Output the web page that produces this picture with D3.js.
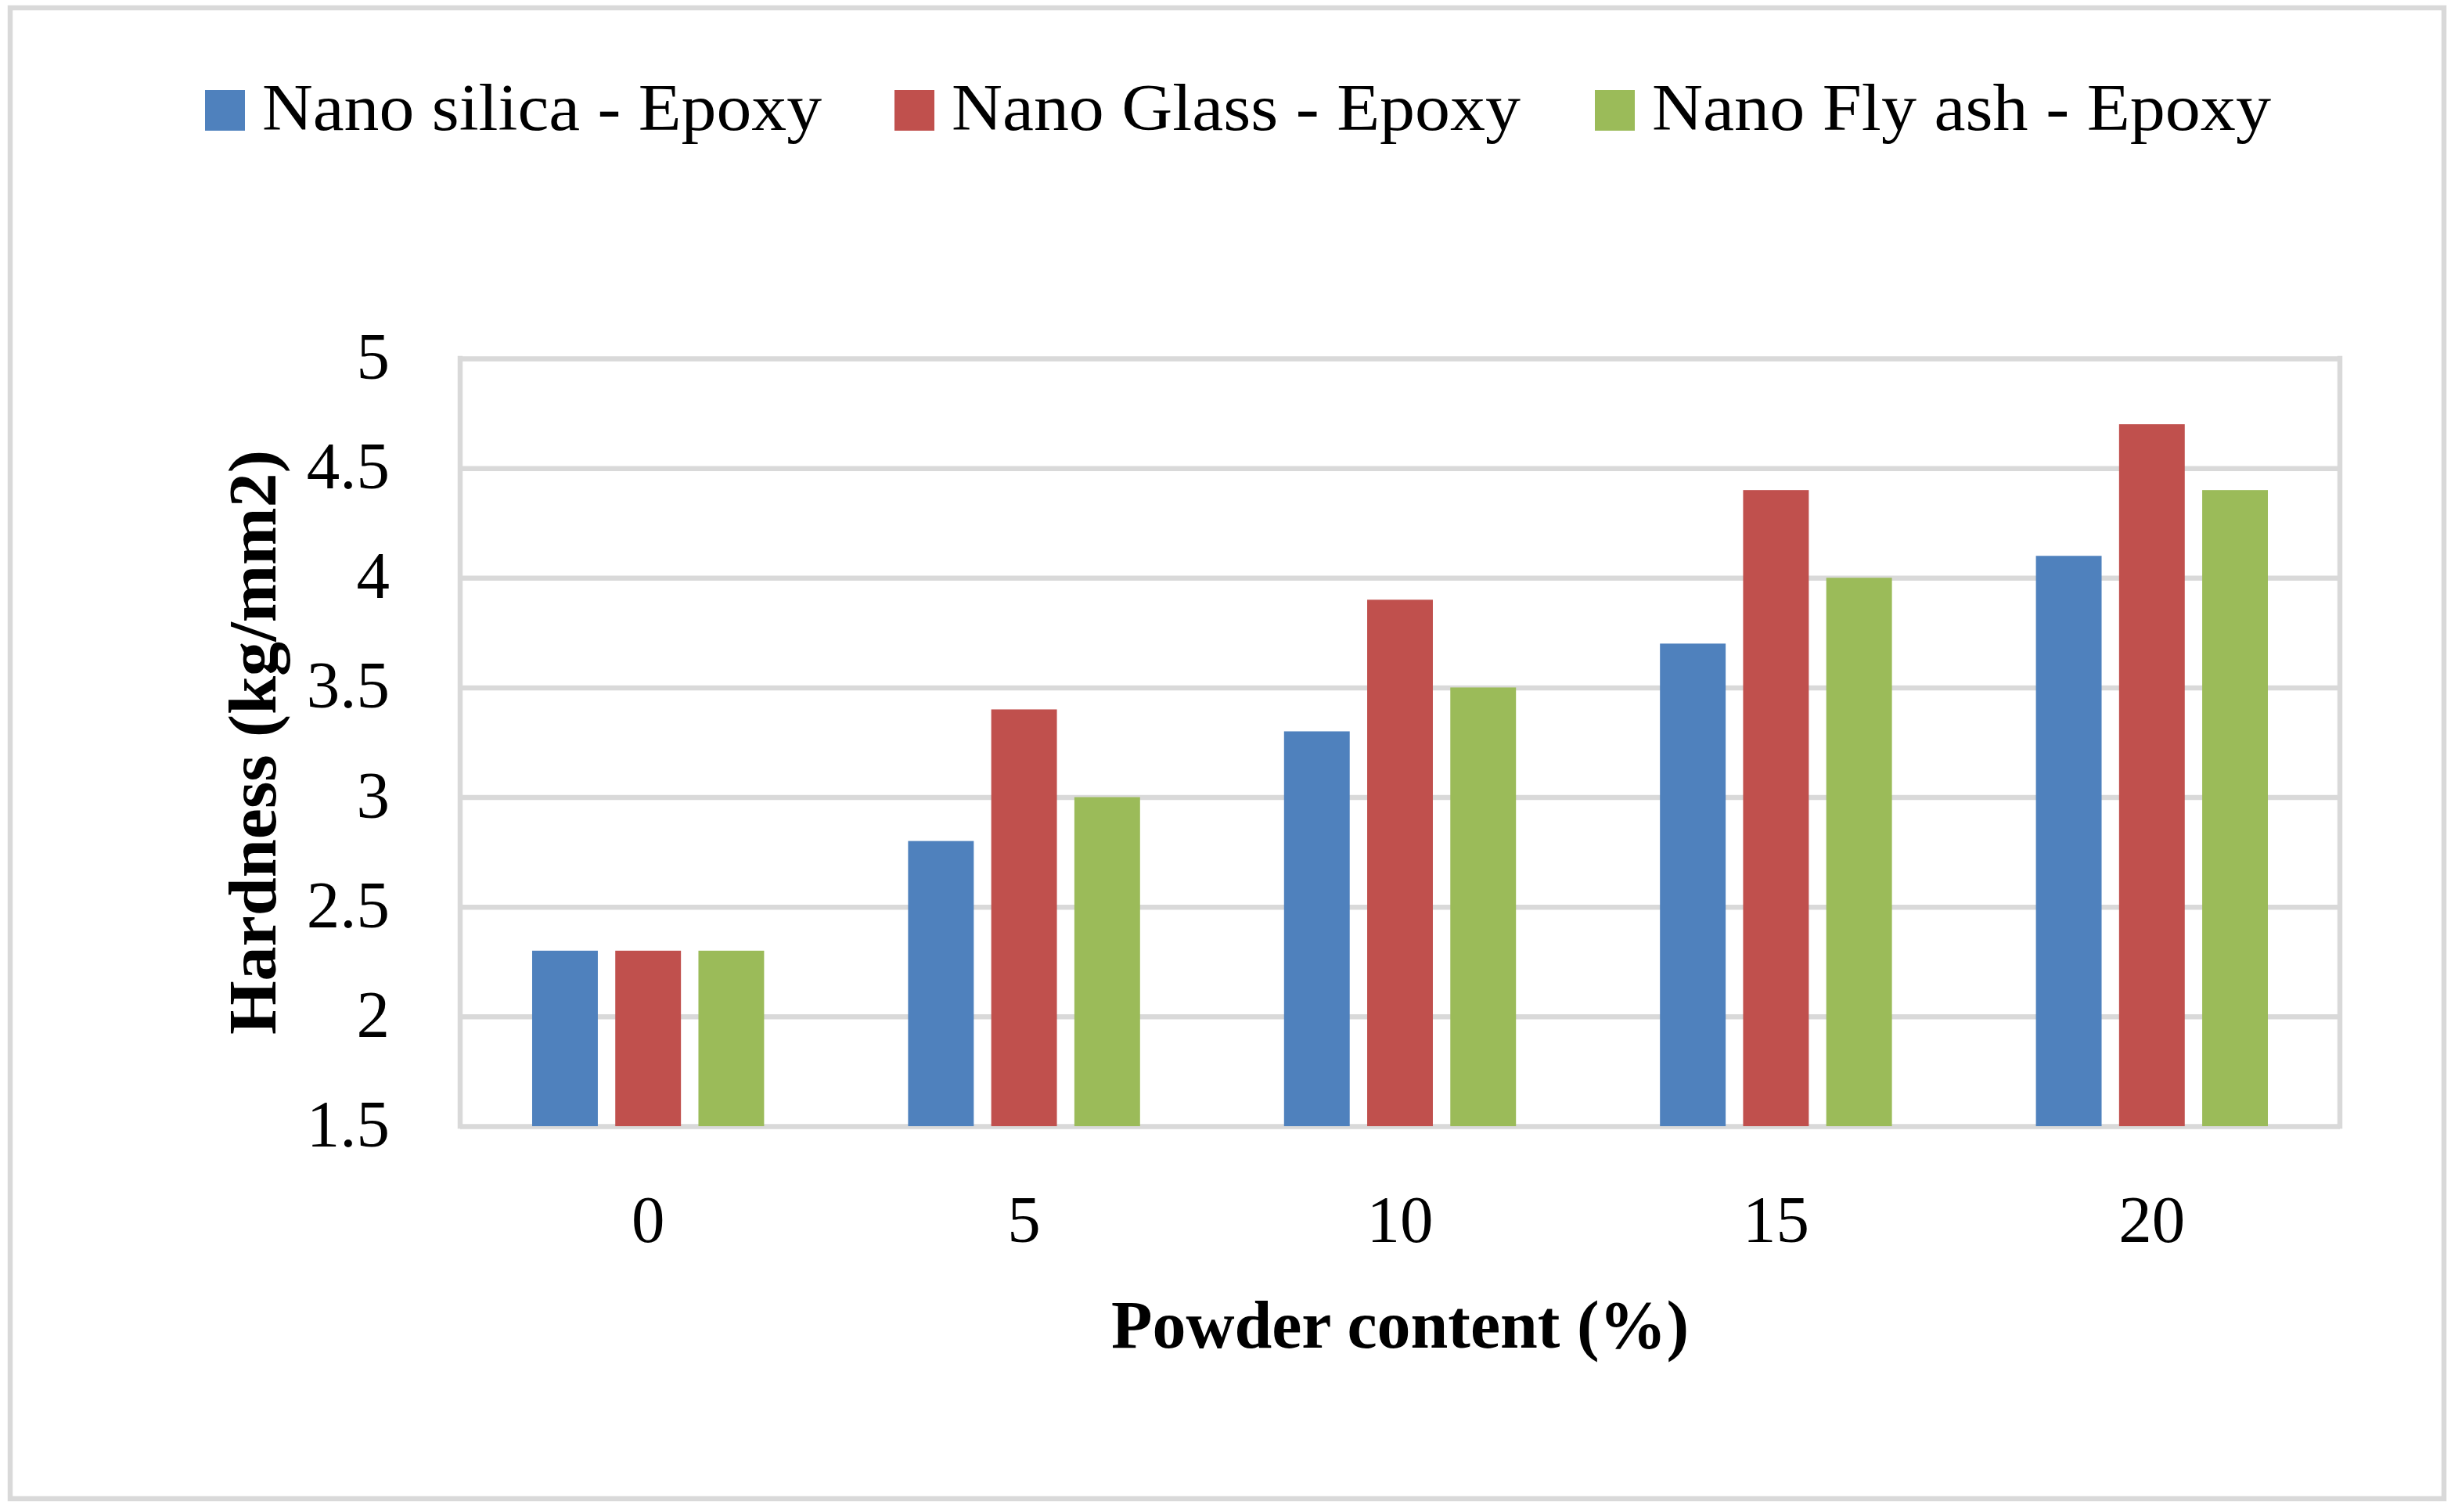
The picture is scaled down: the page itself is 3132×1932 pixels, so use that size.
<html>
<head>
  <meta charset="utf-8">
  <script src="https://cdn.jsdelivr.net/npm/d3@7/dist/d3.min.js"></script>
  <style>
    body { margin: 0; background: #fff; }
    svg text { font-family: "Liberation Serif", "Times New Roman", serif; fill: #000; }
    .grid line { stroke: #d9d9d9; stroke-width: 6.5; }
    .grid .domain { display: none; }
    .xaxis .domain { display: none; }
  </style>
</head>
<body>
<div id="chart"></div>
<script>
  // data
  var categories = ["0", "5", "10", "15", "20"];
  var seriesNames = ["Nano silica - Epoxy", "Nano Glass - Epoxy", "Nano Fly ash - Epoxy"];
  var seriesColors = ["#4f81bd", "#c0504d", "#9bbb59"];
  var silica = [2.3, 2.8, 3.3, 3.7, 4.1];
  var glass  = [2.3, 3.4, 3.9, 4.4, 4.7];
  var flyash = [2.3, 3.0, 3.5, 4.0, 4.4];
  var yTicks = [1.5, 2, 2.5, 3, 3.5, 4, 4.5, 5];
  var yTickLabels = ["1.5", "2", "2.5", "3", "3.5", "4", "4.5", "5"];

  var series = [silica, glass, flyash];

  var W = 3132, H = 1932;
  var plot = { left: 588, right: 2990, top: 458, bottom: 1439 };
  var fontSize = 85;

  var svg = d3.select('#chart').append('svg')
    .attr('width', W).attr('height', H);

  svg.append('rect').attr('width', W).attr('height', H).attr('fill', '#fff');

  // outer frame
  svg.append('rect')
    .attr('x', 13).attr('y', 10).attr('width', 3110).attr('height', 1905)
    .attr('fill', 'none').attr('stroke', '#d9d9d9').attr('stroke-width', 6.5);

  var x0 = d3.scaleBand().domain(categories)
    .range([plot.left, plot.right]).paddingInner(0.383).paddingOuter(0.1915);
  var x1 = d3.scaleBand().domain(d3.range(seriesNames.length))
    .range([0, x0.bandwidth()]).paddingInner(0.21);
  var y = d3.scaleLinear().domain([1.5, 5]).range([plot.bottom, plot.top]);

  // gridlines + y tick labels
  var gy = svg.append('g').attr('class', 'grid')
    .attr('transform', 'translate(' + plot.left + ',0)')
    .call(d3.axisLeft(y).tickValues(yTicks)
      .tickFormat(function(d, i) { return yTickLabels[i]; })
      .tickSize(-(plot.right - plot.left)).tickPadding(90));
  gy.selectAll('text').style('font-size', fontSize + 'px').attr('dy', '0.3em');

  // plot border (left / right)
  svg.append('line').attr('x1', plot.left).attr('x2', plot.left)
    .attr('y1', plot.top - 3.25).attr('y2', plot.bottom + 3.25)
    .attr('stroke', '#d9d9d9').attr('stroke-width', 6.5);
  svg.append('line').attr('x1', plot.right).attr('x2', plot.right)
    .attr('y1', plot.top - 3.25).attr('y2', plot.bottom + 3.25)
    .attr('stroke', '#d9d9d9').attr('stroke-width', 6.5);

  // bars
  var groups = svg.append('g').selectAll('g')
    .data(categories).enter().append('g')
    .attr('transform', function(d) { return 'translate(' + x0(d) + ',0)'; });
  groups.selectAll('rect')
    .data(function(d, ci) { return series.map(function(s, si) { return { si: si, v: s[ci] }; }); })
    .enter().append('rect')
    .attr('x', function(d) { return x1(d.si); })
    .attr('width', x1.bandwidth())
    .attr('y', function(d) { return y(d.v); })
    .attr('height', function(d) { return y(1.5) - y(d.v); })
    .attr('fill', function(d) { return seriesColors[d.si]; });

  // x axis labels
  var gx = svg.append('g').attr('class', 'xaxis')
    .attr('transform', 'translate(0,' + plot.bottom + ')')
    .call(d3.axisBottom(x0).tickSize(0).tickPadding(88));
  gx.selectAll('text').style('font-size', fontSize + 'px');

  // axis titles
  svg.append('text')
    .attr('x', (plot.left + plot.right) / 2).attr('y', 1722)
    .attr('text-anchor', 'middle')
    .attr('textLength', 738).attr('lengthAdjust', 'spacingAndGlyphs')
    .style('font-size', '86px').style('font-weight', 'bold')
    .text('Powder content (%)');

  svg.append('text')
    .attr('transform', 'translate(352,' + ((plot.top + plot.bottom) / 2) + ') rotate(-90)')
    .attr('text-anchor', 'middle')
    .attr('textLength', 747).attr('lengthAdjust', 'spacingAndGlyphs')
    .style('font-size', '86px').style('font-weight', 'bold')
    .text('Hardness (kg/mm2)');

  // legend
  var legendX = [262, 1143, 2038];
  var legendW = [715, 727, 791];
  var leg = svg.append('g').selectAll('g')
    .data(seriesNames).enter().append('g')
    .attr('transform', function(d, i) { return 'translate(' + legendX[i] + ',0)'; });
  leg.append('rect')
    .attr('x', 0).attr('y', 115).attr('width', 51).attr('height', 52)
    .attr('fill', function(d, i) { return seriesColors[i]; });
  leg.append('text')
    .attr('x', 73).attr('y', 166)
    .attr('textLength', function(d, i) { return legendW[i]; })
    .attr('lengthAdjust', 'spacingAndGlyphs')
    .style('font-size', fontSize + 'px')
    .text(function(d) { return d; });
</script>
</body>
</html>
